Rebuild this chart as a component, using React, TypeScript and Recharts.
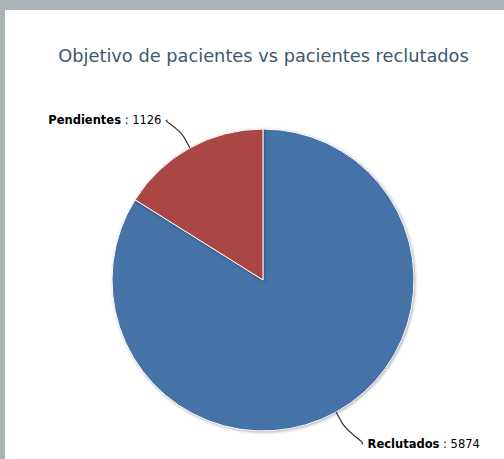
import React from "react";
import { PieChart, Pie, Cell } from "recharts";

const categories = ["Reclutados", "Pendientes"];
const values = [5874, 1126];
const colors = ["#4572A7", "#AA4643"];
const title = "Objetivo de pacientes vs pacientes reclutados";

const data = categories.map((name, i) => ({ name, value: values[i] }));

const RAD = Math.PI / 180;

const renderLabel = (props: any) => {
  const { cx, cy, midAngle, outerRadius, name, value } = props;
  const ux = Math.cos(-midAngle * RAD);
  const uy = Math.sin(-midAngle * RAD);
  const sign = ux >= 0 ? 1 : -1;
  const r = outerRadius;
  const E = { x: cx + r * ux, y: cy + r * uy };
  const B = { x: cx + (r + 12) * ux, y: cy + (r + 12) * uy };
  const ly = cy + (r + 34) * uy + 2;
  const connX = cx + (r + 34) * ux + sign * (sign > 0 ? 9 : 6);
  const textX = connX + sign * 6;
  const d = `M ${connX} ${ly} C ${textX} ${ly} ${2 * B.x - E.x} ${2 * B.y - E.y} ${B.x} ${B.y} L ${E.x} ${E.y}`;
  return (
    <g>
      <path d={d} stroke="#333" strokeWidth={1.1} fill="none" />
      <text
        x={textX}
        y={ly}
        dy="0.35em"
        textAnchor={sign > 0 ? "start" : "end"}
        fontFamily="'DejaVu Sans', sans-serif"
        fontSize={11.5}
        fill="#000"
      >
        <tspan fontWeight="bold">{name}</tspan>
        <tspan>{` : ${value}`}</tspan>
      </text>
    </g>
  );
};

export default function App() {
  return (
    <div
      style={{
        position: "absolute",
        left: 0,
        top: 0,
        width: 504,
        height: 459,
        background: "#aab4b6",
        overflow: "hidden",
      }}
    >
      <div
        style={{
          position: "absolute",
          left: 5,
          top: 10,
          width: 499,
          height: 449,
          background: "#ffffff",
        }}
      />
      <div
        style={{
          position: "absolute",
          left: 0,
          top: 45,
          width: 527,
          textAlign: "center",
          fontFamily: "'DejaVu Sans', sans-serif",
          fontSize: 17.8,
          color: "#3E576F",
          lineHeight: "22px",
        }}
      >
        {title}
      </div>
      <div style={{ position: "absolute", left: 0, top: 0 }}>
        <PieChart width={504} height={459} margin={{ top: 0, right: 0, bottom: 0, left: 0 }}>
          <Pie
            data={data}
            dataKey="value"
            nameKey="name"
            cx={263}
            cy={280}
            outerRadius={151}
            startAngle={90}
            endAngle={-270}
            stroke="#ffffff"
            strokeWidth={1}
            label={renderLabel}
            labelLine={false}
            isAnimationActive={false}
          >
            {data.map((d, i) => (
              <Cell
                key={d.name}
                fill={colors[i]}
                style={{ filter: "drop-shadow(1px 1px 1.5px rgba(0,0,0,0.3))" }}
              />
            ))}
          </Pie>
        </PieChart>
      </div>
    </div>
  );
}
